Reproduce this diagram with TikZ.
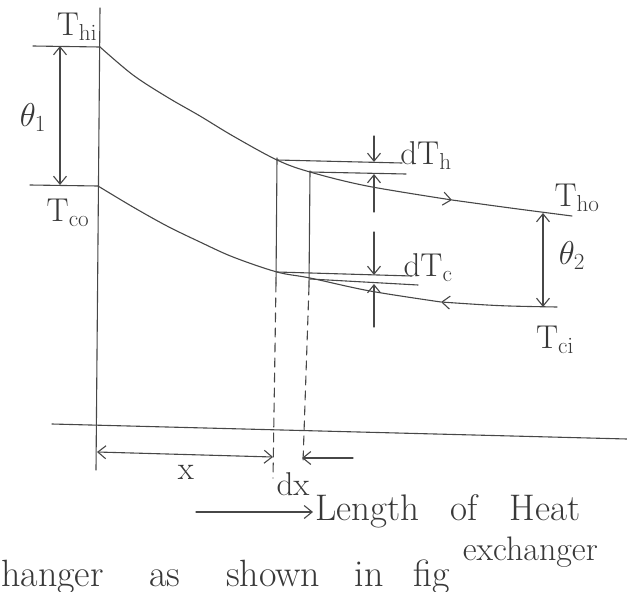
\documentclass[tikz,border=0pt]{standalone}
\usepackage{fix-cm}
\usetikzlibrary{arrows.meta}
\begin{document}
\begin{tikzpicture}[x=1pt,y=-1pt,
  ink/.style={draw=black!72, line width=1.1pt, line cap=round},
  dashline/.style={ink, dash pattern=on 9pt off 6pt},
  barb/.style={-{Straight Barb[length=8pt,width=13pt]}},
  bibarb/.style={{Straight Barb[length=8pt,width=13pt]}-{Straight Barb[length=8pt,width=13pt]}},
  lbl/.style={text=black!78, inner sep=0pt, font=\fontsize{33}{36}\selectfont},
  lentxt/.style={text=black!78, inner sep=0pt, font=\fontsize{37}{39}\selectfont},
  bigtxt/.style={text=black!78, inner sep=0pt, font=\fontsize{38}{40}\selectfont},
  midtxt/.style={text=black!78, inner sep=0pt, font=\fontsize{34}{36}\selectfont}]
\useasboundingbox (0,0) rectangle (627,592);
% axes
\coordinate (axT) at (100,8);
\coordinate (axB) at (96,470);
\coordinate (hL) at (52,424);
\coordinate (hR) at (627,439);
\draw[ink] (axT) -- (axB);
\draw[ink] (hL) -- (hR);
% inlet / outlet levels
\coordinate (Hi) at (100,47);
\coordinate (Co) at (98,186);
\coordinate (HiL) at (33,46);
\coordinate (CoL) at (30,185);
\draw[ink] (HiL) -- (Hi);
\draw[ink] (CoL) -- (Co);
\coordinate (t1a) at (60,46);
\coordinate (t1b) at (60,185);
\draw[ink, bibarb] (t1a) -- (t1b);
% hot curve
\coordinate (H1) at (277,160);
\coordinate (H2) at (310,172);
\coordinate (Ha) at (452,200);
\coordinate (He) at (572,216);
\draw[ink, barb] plot[smooth, tension=0.55] coordinates {(Hi) (133,75) (167,97) (200,116) (233,136) (H1) (H2) (367,186) (Ha)};
\draw[ink] (Ha) .. controls (510,208) .. (He);
% cold curve
\coordinate (C1) at (277,272);
\coordinate (C2) at (310,278);
\coordinate (Ca) at (441,302);
\coordinate (Ce) at (557,307);
\draw[ink] plot[smooth, tension=0.55] coordinates {(Co) (133,207) (167,226) (200,242) (233,257) (C1) (C2) (370,291) (Ca)};
\draw[ink, barb] (Ce) .. controls (500,306) .. (Ca);
% theta 2
\coordinate (t2a) at (543,213);
\coordinate (t2b) at (543,307);
\draw[ink, bibarb] (t2a) -- (t2b);
% element dx
\coordinate (V1t) at (277,158);
\coordinate (V1b) at (276,283);
\coordinate (V2t) at (310,171);
\coordinate (V2b) at (309,286);
\coordinate (D1b) at (273,478);
\coordinate (D2b) at (303,462);
\draw[ink] (V1t) -- (V1b);
\draw[ink] (V2t) -- (V2b);
\draw[dashline] (V1b) -- (D1b);
\draw[dashline] (V2b) -- (D2b);
% dT lines
\coordinate (dh1) at (402,163);
\coordinate (dh2) at (406,174);
\coordinate (dc1) at (412,276);
\coordinate (dc2) at (418,285);
\coordinate (C2b) at (310,279);
\draw[ink] (H1) -- (dh1);
\draw[ink] (H2) -- (dh2);
\draw[ink] (C1) -- (dc1);
\draw[ink] (C2b) -- (dc2);
\coordinate (m1) at (374,136);
\coordinate (m2) at (374,162);
\coordinate (m3) at (374,174);
\coordinate (m4) at (374,212);
\coordinate (m5) at (374,232);
\coordinate (m6) at (374,275);
\coordinate (m7) at (374,284);
\coordinate (m8) at (374,327);
\draw[ink, barb] (m1) -- (m2);
\draw[ink, barb] (m4) -- (m3);
\draw[ink, barb] (m5) -- (m6);
\draw[ink, barb] (m8) -- (m7);
% x and dx
\coordinate (xa) at (97,452);
\coordinate (xb) at (273,457);
\coordinate (dxa) at (353,458);
\coordinate (dxb) at (302,458);
\draw[ink, bibarb] (xa) -- (xb);
\draw[ink, barb] (dxa) -- (dxb);
% length arrow
\coordinate (La) at (196,512);
\coordinate (Lb) at (313,512);
\draw[ink, barb] (La) -- (Lb);
% labels
\node[lbl] (lThi) at (77,27) {$\mathrm{T}_{\mathrm{hi}}$};
\node[lbl] (lTco) at (68,213) {$\mathrm{T}_{\mathrm{co}}$};
\node[lbl] (lth1) at (33,118) {$\theta_{1}$};
\node[lbl] (ldTh) at (426,156) {$\mathrm{dT}_{\mathrm{h}}$};
\node[lbl] (ldTc) at (428,268) {$\mathrm{dT}_{\mathrm{c}}$};
\node[lbl] (lTho) at (577,198) {$\mathrm{T}_{\mathrm{ho}}$};
\node[lbl] (lth2) at (572,256) {$\theta_{2}$};
\node[lbl] (lTci) at (555,340) {$\mathrm{T}_{\mathrm{ci}}$};
\node[lbl] (lx) at (186,472) {x};
\node[lbl] (ldx) at (293,484) {dx};
\node[lentxt, anchor=base west] (lLen) at (315,520) {Length\hspace{0.85em}of\hspace{0.85em}Heat};
\node[midtxt, anchor=base east] (lexc) at (598,560) {exchanger};
\node[bigtxt, anchor=base west] (lbot) at (1,586) {hanger\hspace{1.2em}as\hspace{1.2em}shown\hspace{0.9em}in\hspace{0.8em}fig};
\end{tikzpicture}
\end{document}
